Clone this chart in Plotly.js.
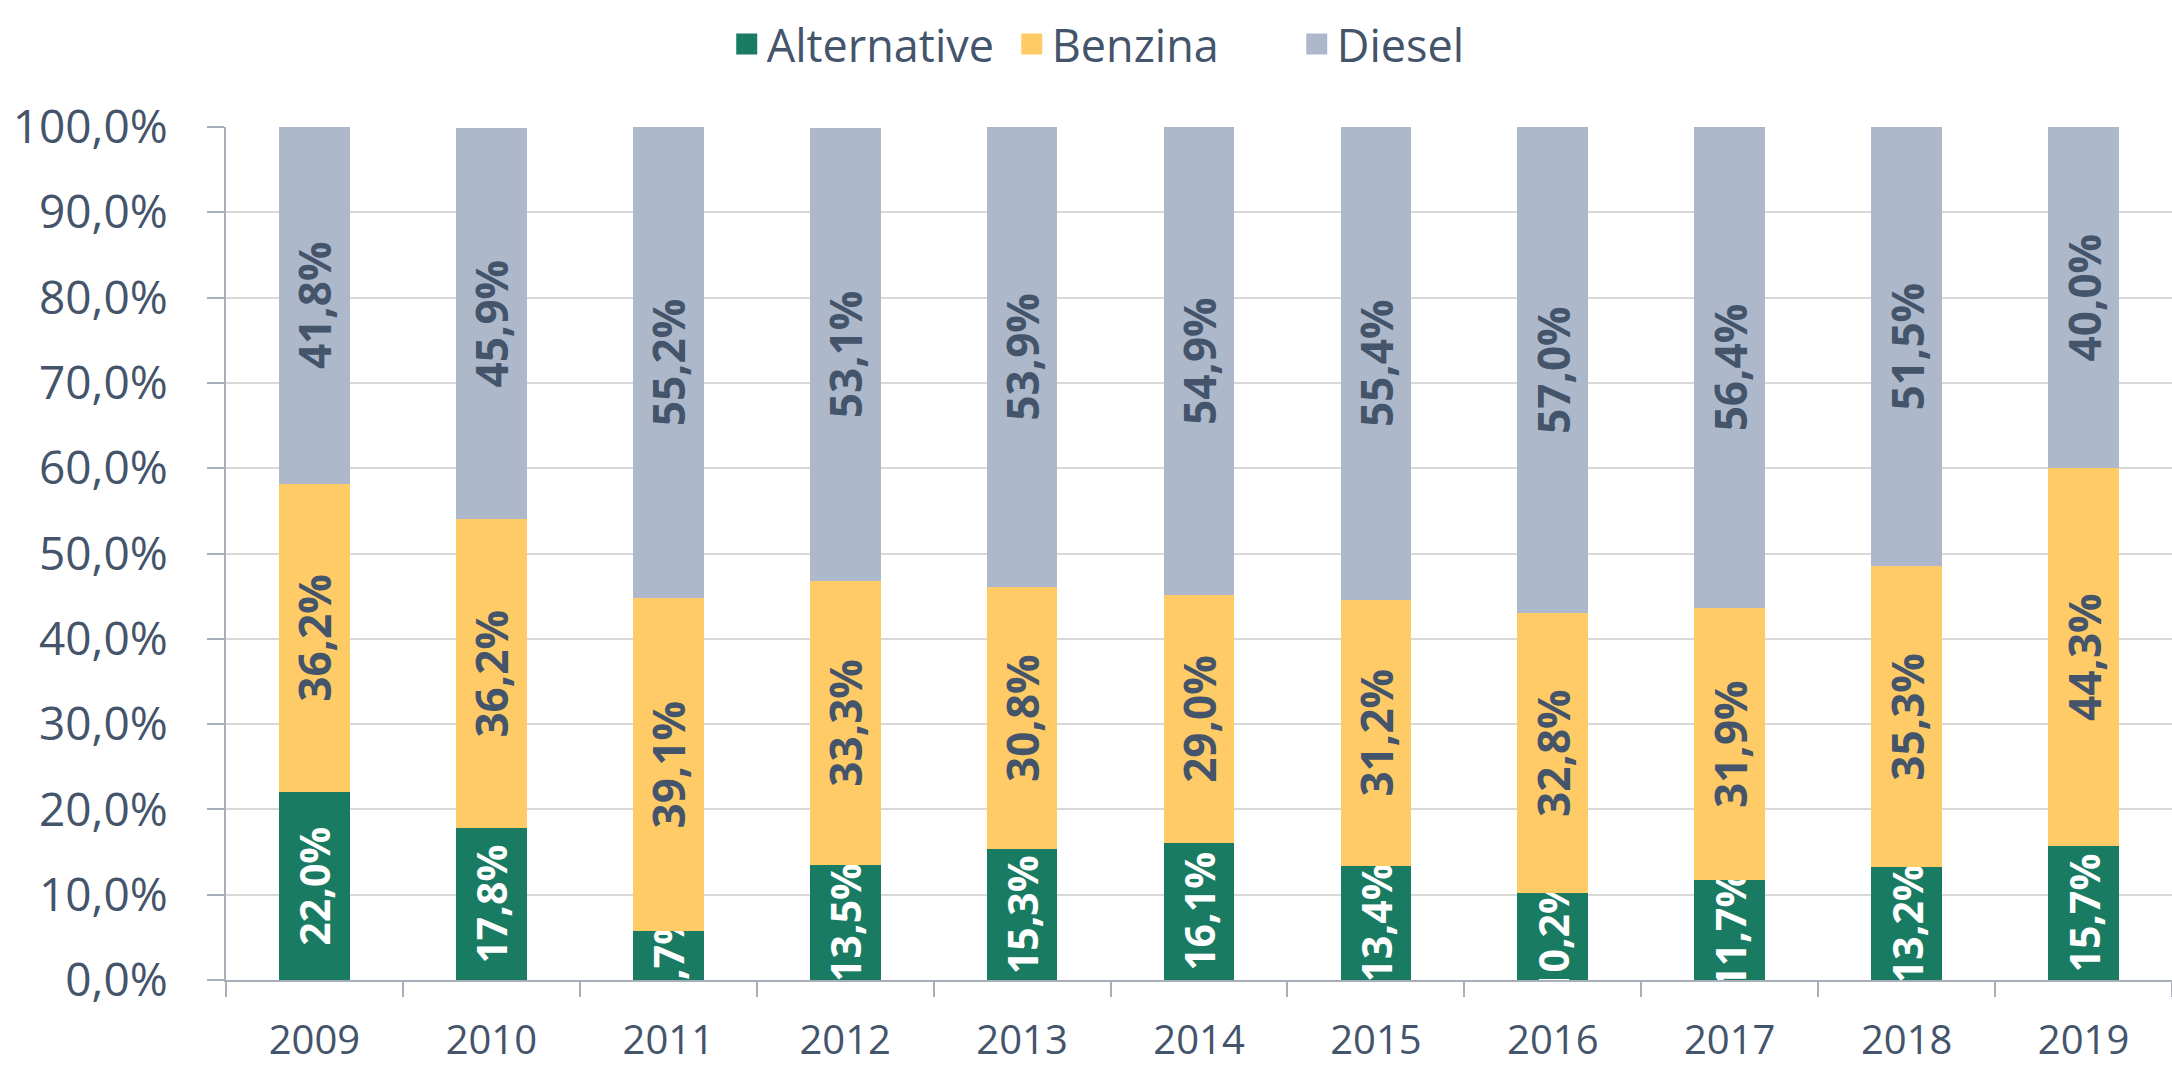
<!DOCTYPE html>
<html>
<head>
<meta charset="utf-8">
<script src="https://cdn.plot.ly/plotly-3.0.1.min.js"></script>
<style>html,body{margin:0;padding:0;background:#fff;}#chart{width:2172px;height:1065px;}</style>
</head>
<body>
<div id="chart"></div>
<script>
const years = ['2009','2010','2011','2012','2013','2014','2015','2016','2017','2018','2019'];
const alternative = [22.0, 17.8, 5.7, 13.5, 15.3, 16.1, 13.4, 10.2, 11.7, 13.2, 15.7];
const benzina = [36.2, 36.2, 39.1, 33.3, 30.8, 29.0, 31.2, 32.8, 31.9, 35.3, 44.3];
const diesel = [41.8, 45.9, 55.2, 53.1, 53.9, 54.9, 55.4, 57.0, 56.4, 51.5, 40.0];
const seriesNames = ['Alternative', 'Benzina', 'Diesel'];
const seriesColors = ['#1A7B63', '#FFCB66', '#ADB9CA'];
const yTicks = [0,10,20,30,40,50,60,70,80,90,100];
const yTickText = yTicks.map(v => v.toFixed(1).replace('.', ',') + '%');

const textCol = '#44546A';
const fontFam = '"Open Sans", "Noto Sans", sans-serif';

function barTrace(name, vals, color, labelColor, labelSize) {
  return {
    type: 'bar', name: name, x: years, y: vals,
    marker: {color: color},
    texttemplate: '%{y:.1f}%',
    textposition: 'inside',
    insidetextanchor: 'middle',
    textangle: -90,
    constraintext: 'none',
    cliponaxis: true,
    textfont: {family: fontFam, size: labelSize, color: labelColor, weight: 'bold'},
    showlegend: false,
    hoverinfo: 'skip'
  };
}

// legend-only entries (no data) so the legend keys can be drawn as larger squares
function legendTrace(name, color) {
  return {
    type: 'scatter', mode: 'markers', name: name, x: [null], y: [null],
    marker: {color: color, symbol: 'square', size: 30, line: {color: color, width: 10}},
    showlegend: true, hoverinfo: 'skip'
  };
}

const data = [
  barTrace(seriesNames[0], alternative, seriesColors[0], '#FFFFFF', 41),
  barTrace(seriesNames[1], benzina, seriesColors[1], textCol, 44),
  barTrace(seriesNames[2], diesel, seriesColors[2], textCol, 44),
  legendTrace(seriesNames[0], seriesColors[0]),
  legendTrace(seriesNames[1], seriesColors[1]),
  legendTrace(seriesNames[2], seriesColors[2])
];

const layout = {
  width: 2172, height: 1065,
  margin: {l: 226, r: 0, t: 127, b: 85},
  barmode: 'stack',
  bargap: 0.6,
  separators: ',.',
  paper_bgcolor: '#fff', plot_bgcolor: '#fff',
  font: {family: fontFam, color: textCol},
  showlegend: true,
  legend: {
    orientation: 'h', x: 0.477, xanchor: 'center', y: 1.097, yanchor: 'middle',
    font: {size: 45, color: textCol, family: fontFam},
    itemwidth: 30, traceorder: 'normal',
    entrywidthmode: 'pixels', entrywidth: 240
  },
  xaxis: {
    type: 'category',
    showline: true, linecolor: '#A7AFBA', linewidth: 2,
    ticks: 'outside', tickson: 'boundaries', ticklen: 15, tickcolor: '#A7AFBA', tickwidth: 2,
    tickfont: {size: 40, color: textCol, family: fontFam},
    ticklabelstandoff: 24,
    showgrid: false
  },
  yaxis: {
    range: [0, 100],
    tickmode: 'array',
    tickvals: yTicks,
    ticktext: yTickText,
    showline: true, linecolor: '#A7AFBA', linewidth: 2,
    ticks: 'outside', ticklen: 17, tickcolor: '#A7AFBA', tickwidth: 2,
    tickfont: {size: 46, color: textCol, family: fontFam},
    ticklabelstandoff: 30,
    showgrid: true, gridcolor: '#D9D9D9', gridwidth: 2,
    zeroline: false
  }
};

Plotly.newPlot('chart', data, layout, {displayModeBar: false, staticPlot: true});
</script>
</body>
</html>
